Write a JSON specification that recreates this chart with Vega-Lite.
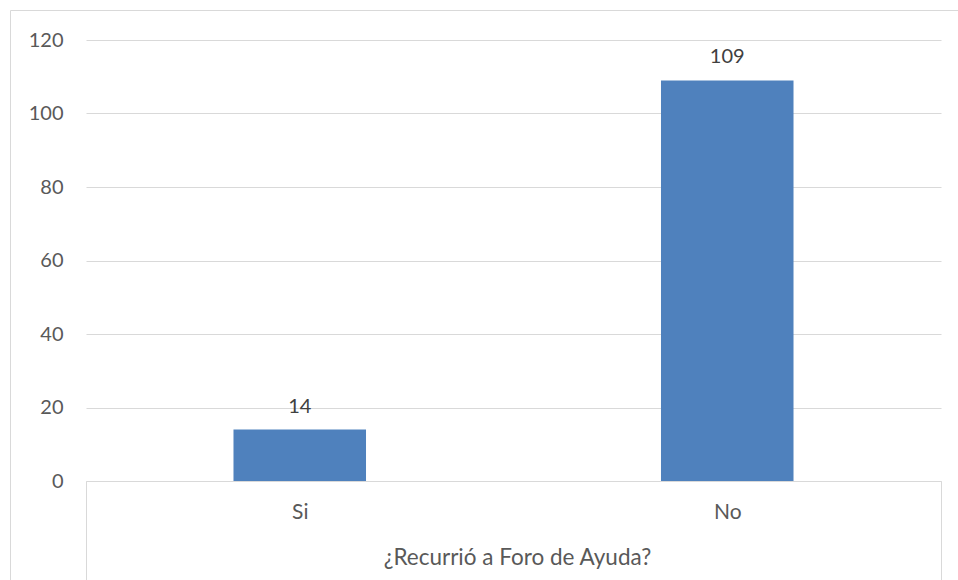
{
  "$schema": "https://vega.github.io/schema/vega-lite/v6.json",
  "width": 948,
  "height": 570,
  "autosize": {"type": "none"},
  "padding": {"left": 10, "top": 10, "right": 0, "bottom": 0},
  "background": "white",
  "config": {"view": {"stroke": "#D9D9D9", "strokeWidth": 1}, "font": "Lato"},
  "data": {"values": [
    {"respuesta": "Si", "cantidad": 14},
    {"respuesta": "No", "cantidad": 109}
  ]},
  "encoding": {
    "x": {
      "field": "respuesta", "type": "nominal", "sort": ["Si", "No"],
      "scale": {"range": [76, 931], "paddingInner": 0, "paddingOuter": 0},
      "axis": {
        "title": "¿Recurrió a Foro de Ayuda?", "orient": "bottom", "offset": -99,
        "domainColor": "#D9D9D9", "domainWidth": 1,
        "tickBand": "extent", "tickSize": 99, "tickColor": "#D9D9D9", "tickWidth": 1,
        "tickOpacity": {"condition": {"test": "datum.value === 'Si'", "value": 0}, "value": 1},
        "labelAngle": 0, "labelFont": "Lato", "labelFontSize": 21, "labelColor": "#595959",
        "labelBaseline": "middle", "labelPadding": -68,
        "titleFont": "Lato", "titleFontSize": 22.5, "titleFontWeight": "normal", "titleColor": "#595959",
        "titleY": 76, "titleX": 507, "titleBaseline": "middle",
        "grid": false
      }
    },
    "y": {
      "field": "cantidad", "type": "quantitative",
      "scale": {"domain": [0, 120], "range": [471, 30], "nice": false, "zero": true},
      "axis": {
        "title": null, "values": [0, 20, 40, 60, 80, 100, 120], "offset": -76,
        "domain": false, "ticks": false, "labelPadding": 23,
        "labelFont": "Lato", "labelFontSize": 20, "labelColor": "#595959",
        "grid": true, "gridColor": "#D9D9D9", "gridWidth": 1
      }
    }
  },
  "layer": [
    {"mark": {"type": "bar", "color": "#4F81BD", "width": {"band": 0.31}}},
    {
      "mark": {"type": "text", "baseline": "middle", "dy": -23, "fontSize": 20, "font": "Lato", "color": "#404040"},
      "encoding": {"text": {"field": "cantidad", "type": "quantitative"}}
    }
  ]
}
